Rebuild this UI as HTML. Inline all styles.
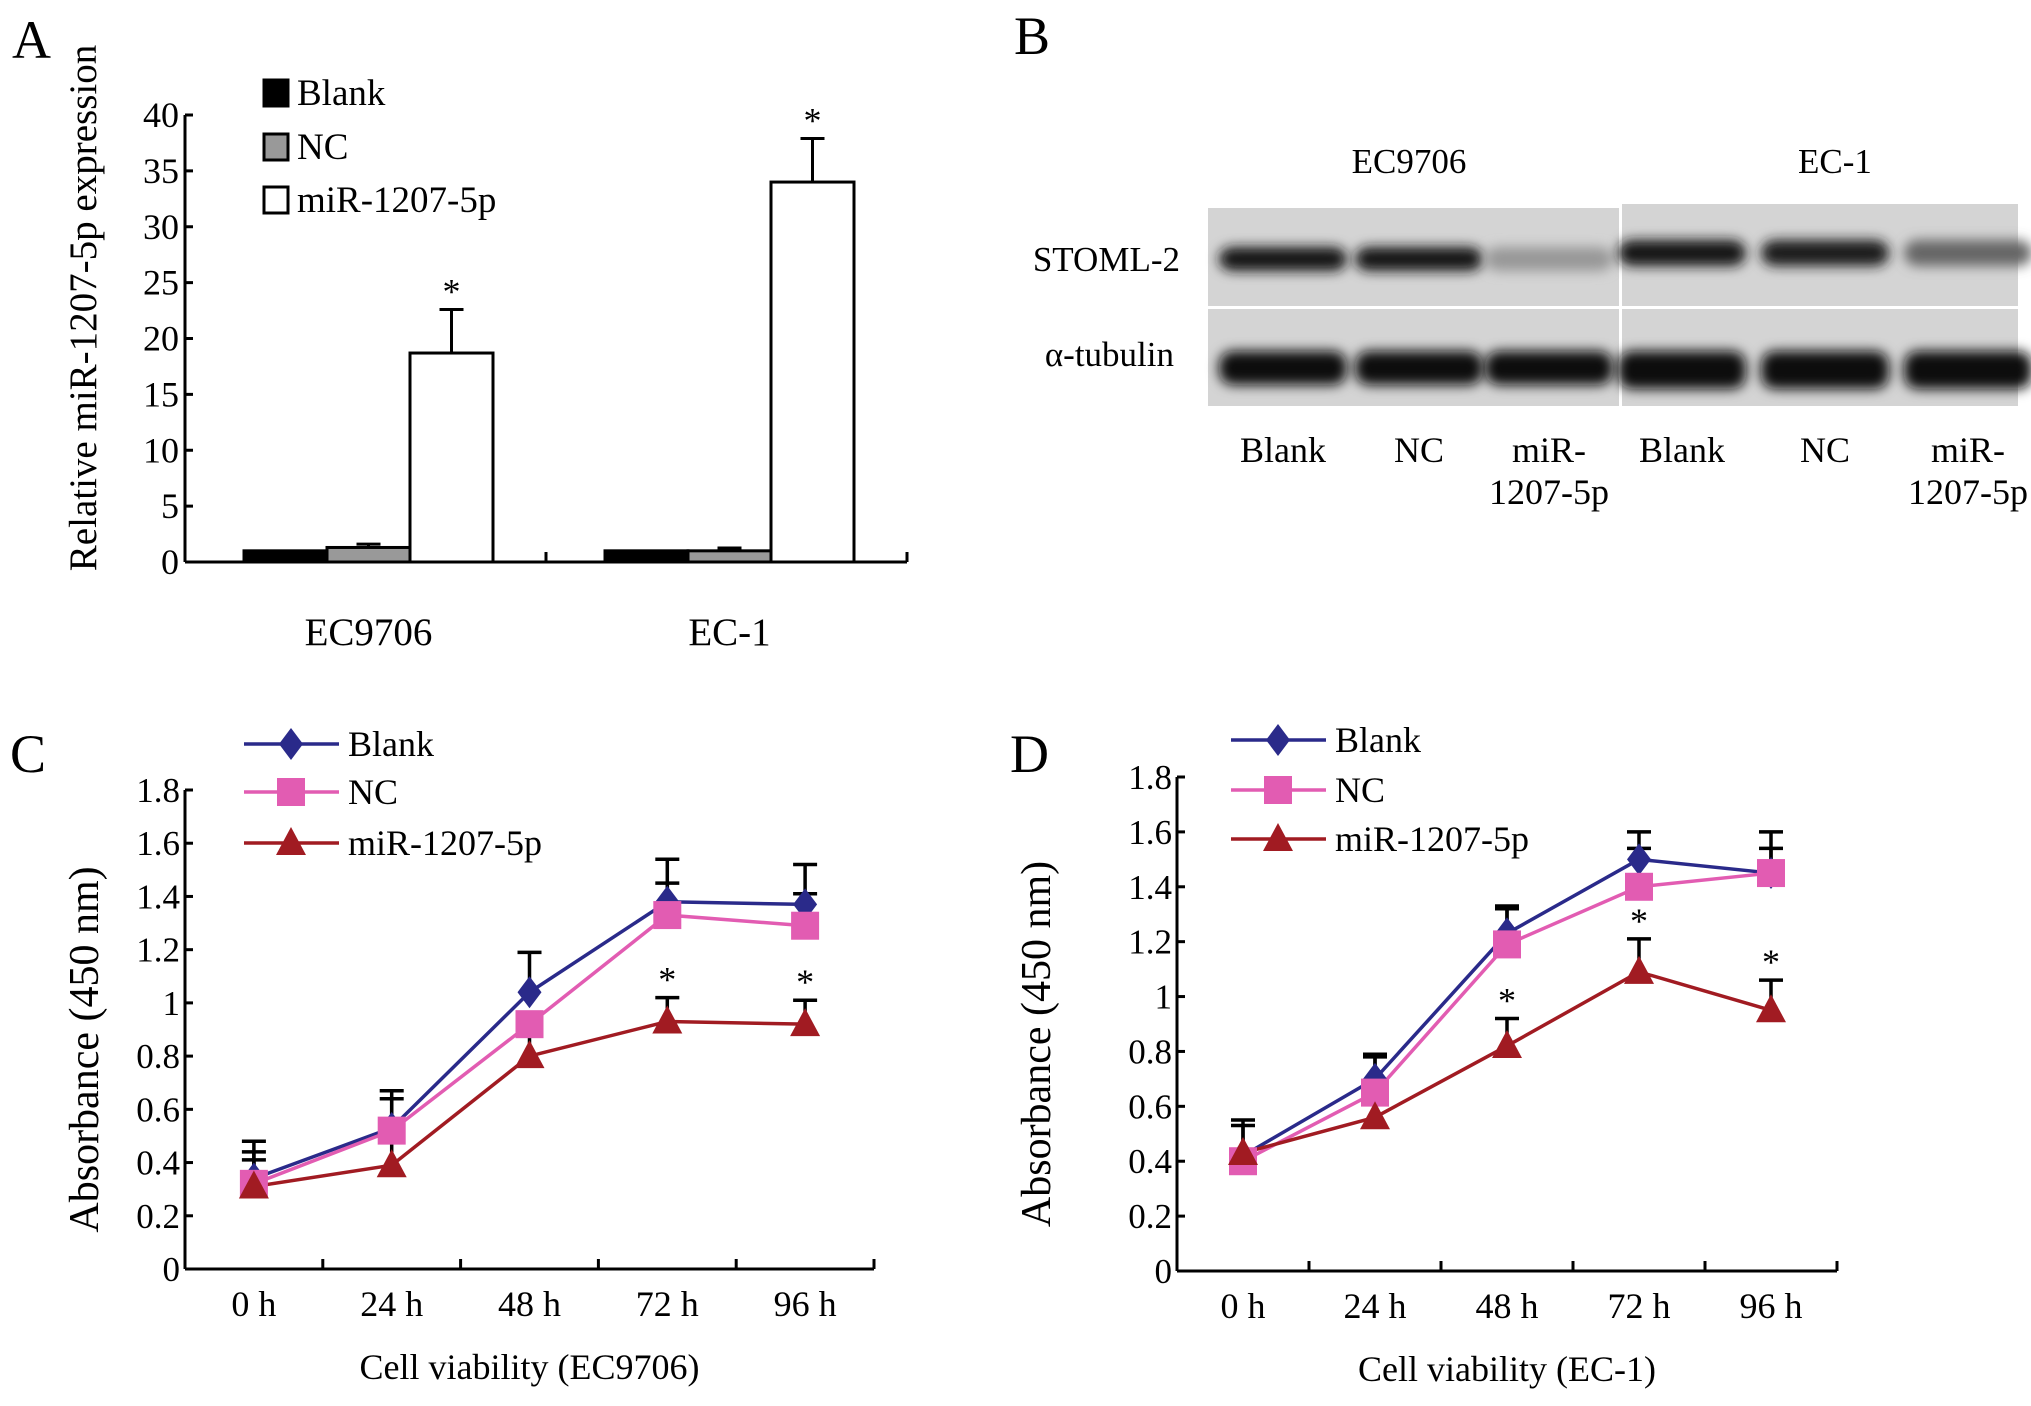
<!DOCTYPE html>
<html><head><meta charset="utf-8"><style>
html,body{margin:0;padding:0;background:#fff;}
svg{display:block;font-family:"Liberation Serif",serif;}
</style></head><body>
<svg id="fig" width="2031" height="1406" viewBox="0 0 2031 1406" xmlns="http://www.w3.org/2000/svg">
<defs>
<filter id="blur" x="-20%" y="-60%" width="140%" height="220%"><feGaussianBlur stdDeviation="6"/></filter>
</defs>
<text x="12" y="58" font-size="54">A</text>
<text x="1014" y="54" font-size="54">B</text>
<text x="10" y="772" font-size="54">C</text>
<text x="1010" y="772" font-size="54">D</text>

<g id="panelA"></g>
<g id="panelB"></g>
<g id="panelC"></g>
<g id="panelD"></g>
</svg>
<script>
// ---------- Panel A data ----------
const barGroups = ["EC9706", "EC-1"];
const barSeries = ["Blank", "NC", "miR-1207-5p"];
const barBlank = [1.0, 1.0];
const barNC = [1.3, 1.0];
const barMiR = [18.7, 34.0];
const barErrBlank = [0, 0];
const barErrNC = [0.3, 0.25];
const barErrMiR = [3.9, 3.9];
const barStars = [false, false, true];
const barTicks = [0, 5, 10, 15, 20, 25, 30, 35, 40];

// ---------- Panel C data ----------
const timeCats = ["0 h", "24 h", "48 h", "72 h", "96 h"];
const cBlank = [0.34, 0.53, 1.04, 1.38, 1.37];
const cNC = [0.32, 0.52, 0.92, 1.33, 1.29];
const cMiR = [0.31, 0.39, 0.80, 0.93, 0.92];
const cErrBlank = [0.14, 0.14, 0.15, 0.16, 0.15];
const cErrNC = [0.12, 0.12, 0.0, 0.12, 0.12];
const cErrMiR = [0.10, 0.09, 0.09, 0.09, 0.09];
const cStars = [false, false, false, true, true];

// ---------- Panel D data ----------
const dBlank = [0.42, 0.70, 1.23, 1.50, 1.45];
const dNC = [0.40, 0.65, 1.19, 1.40, 1.45];
const dMiR = [0.43, 0.56, 0.82, 1.09, 0.95];
const dErrBlank = [0.13, 0.09, 0.10, 0.10, 0.15];
const dErrNC = [0.13, 0.13, 0.13, 0.14, 0.09];
const dErrMiR = [0.0, 0.0, 0.10, 0.12, 0.11];
const dStars = [false, false, true, true, true];
const lineTicks = [0, 0.2, 0.4, 0.6, 0.8, 1, 1.2, 1.4, 1.6, 1.8];

const NS = "http://www.w3.org/2000/svg";
function mk(parent, tag, attrs, text) {
  const e = document.createElementNS(NS, tag);
  for (const k in attrs) e.setAttribute(k, attrs[k]);
  if (text !== undefined) e.textContent = text;
  parent.appendChild(e);
  return e;
}

// ================= Panel A =================
(function () {
  const g = document.getElementById("panelA");
  const x0 = 185, x1 = 907, yTop = 115, yBot = 562, vmax = 40;
  const y = v => yBot - (v / vmax) * (yBot - yTop);
  const groupW = (x1 - x0) / barGroups.length;
  const barW = 83;
  let e;
  e = mk(g, "line", {x1: x0, y1: yTop, x2: x0, y2: yBot, stroke: "#000", "stroke-width": 3});
  
  
  e = mk(g, "line", {x1: x0, y1: yBot, x2: x1, y2: yBot, stroke: "#000", "stroke-width": 3});
  
  
  barTicks.forEach(t => {
    const yy = y(t);
    mk(g, "line", {x1: x0, y1: yy, x2: x0 + 8, y2: yy, stroke: "#000", "stroke-width": 3});
    const tx = mk(g, "text", {x: x0 - 6, y: yy + 12, "font-size": 36, "text-anchor": "end"}, String(t));
    
    
  });
  for (let i = 1; i <= barGroups.length; i++) {
    const xx = x0 + i * groupW;
    mk(g, "line", {x1: xx, y1: yBot, x2: xx, y2: yBot - 10, stroke: "#000", "stroke-width": 3});
  }
  const fills = ["#000", "#999", "#fff"];
  const vals = [barBlank, barNC, barMiR];
  const errs = [barErrBlank, barErrNC, barErrMiR];
  barGroups.forEach((grp, gi) => {
    const gStart = x0 + gi * groupW + 59;
    vals.forEach((arr, si) => {
      const bx = gStart + si * barW;
      const top = y(arr[gi]);
      if (errs[si][gi] > 0) {
        const et = y(arr[gi] + errs[si][gi]);
        const cx = bx + barW / 2;
        mk(g, "line", {x1: cx, y1: top, x2: cx, y2: et, stroke: "#000", "stroke-width": 3});
        mk(g, "line", {x1: cx - 12, y1: et, x2: cx + 12, y2: et, stroke: "#000", "stroke-width": 3});
      }
      const r = mk(g, "rect", {x: bx, y: top, width: barW, height: yBot - top, fill: fills[si], stroke: "#000", "stroke-width": 3});
      
      
      if (barStars[si]) {
        const st = mk(g, "text", {x: bx + barW / 2, y: y(arr[gi] + errs[si][gi]) - 6, "font-size": 36, "text-anchor": "middle"}, "*");
        
        
      }
    });
    const lbl = mk(g, "text", {x: gStart + 1.5 * barW, y: 645, "font-size": 39, "text-anchor": "middle"}, grp);
    
    
  });
  const yt = mk(g, "text", {x: 0, y: 0, "font-size": 39, "text-anchor": "middle", transform: "translate(96,308) rotate(-90)"}, "Relative  miR-1207-5p expression");
  
  
  const ly = [92, 146, 199];
  barSeries.forEach((s, i) => {
    const b = mk(g, "rect", {x: 264, y: ly[i] - 12, width: 24, height: 26, fill: fills[i], stroke: "#000", "stroke-width": 3});
    
    
    const t = mk(g, "text", {x: 297, y: ly[i] + 13, "font-size": 37}, s);
    
    
  });
})();

// ================= Panel B =================
(function () {
  const g = document.getElementById("panelB");
  const bands = [
    {x: 1208, w: 411, top: 208, h: 98, dark: [0.95, 0.95, 0.3], y: 259, bh: 24},
    {x: 1622, w: 396, top: 204, h: 102, dark: [0.95, 0.92, 0.55], y: 253, bh: 26},
    {x: 1208, w: 411, top: 309, h: 97, dark: [1, 1, 1], y: 368, bh: 34},
    {x: 1622, w: 396, top: 309, h: 97, dark: [1, 1, 1], y: 370, bh: 38}
  ];
  const lanesL = [1283, 1419, 1549];
  const lanesR = [1682, 1825, 1968];
  bands.forEach((b) => {
    const r = mk(g, "rect", {x: b.x, y: b.top, width: b.w, height: b.h, fill: "#d4d4d4"});
    
    
    const lanes = b.x < 1600 ? lanesL : lanesR;
    lanes.forEach((lx, li) => {
      const c = Math.round(212 - 200 * b.dark[li]);
      const el = mk(g, "rect", {x: lx - 64, y: b.y - b.bh / 2, width: 128, height: b.bh, rx: 14, fill: `rgb(${c},${c},${c})`, filter: "url(#blur)"});
      
      
    });
  });
  let t;
  t = mk(g, "text", {x: 1180, y: 271, "font-size": 35, "text-anchor": "end"}, "STOML-2");
  
  
  t = mk(g, "text", {x: 1174, y: 366, "font-size": 35, "text-anchor": "end"}, "α-tubulin");
  
  
  t = mk(g, "text", {x: 1409, y: 173, "font-size": 35, "text-anchor": "middle"}, "EC9706");
  
  
  t = mk(g, "text", {x: 1835, y: 173, "font-size": 35, "text-anchor": "middle"}, "EC-1");
  
  
  const laneNames = ["Blank", "NC", "miR-"];
  [lanesL, lanesR].forEach(ls => {
    ls.forEach((lx, i) => {
      const lt = mk(g, "text", {x: lx, y: 462, "font-size": 36, "text-anchor": "middle"}, laneNames[i]);
      
      
    });
    const l2 = mk(g, "text", {x: ls[2], y: 504, "font-size": 36, "text-anchor": "middle"}, "1207-5p");
    
    
  });
})();

// ================= Line panels =================
function linePanel(id, cfg, series, errs, stars, xTitle) {
  const g = document.getElementById(id);
  const {x0, x1, yTop, yBot} = cfg;
  const vmax = 1.8;
  const y = v => yBot - (v / vmax) * (yBot - yTop);
  const bw = (x1 - x0) / timeCats.length;
  const xc = i => x0 + bw * (i + 0.5);
  let e;
  e = mk(g, "line", {x1: x0, y1: yTop, x2: x0, y2: yBot, stroke: "#000", "stroke-width": 3});
  
  
  e = mk(g, "line", {x1: x0, y1: yBot, x2: x1, y2: yBot, stroke: "#000", "stroke-width": 3});
  
  
  lineTicks.forEach(t => {
    const yy = y(t);
    mk(g, "line", {x1: x0, y1: yy, x2: x0 + 8, y2: yy, stroke: "#000", "stroke-width": 3});
    const tx = mk(g, "text", {x: x0 - 5, y: yy + 12, "font-size": 35, "text-anchor": "end"}, String(t));
    
    
  });
  timeCats.forEach((c, i) => {
    if (i > 0) mk(g, "line", {x1: x0 + bw * i, y1: yBot, x2: x0 + bw * i, y2: yBot - 10, stroke: "#000", "stroke-width": 3});
    const tx = mk(g, "text", {x: xc(i), y: yBot + 47, "font-size": 36, "text-anchor": "middle"}, c);
    
    
  });
  mk(g, "line", {x1: x1, y1: yBot, x2: x1, y2: yBot - 10, stroke: "#000", "stroke-width": 3});
  const colors = ["#2a2a8a", "#e25cb2", "#a11b22"];
  const names = ["blank", "nc", "mir-1207-5p"];
  series.forEach((arr, si) => {
    arr.forEach((v, i) => {
      const err = errs[si][i];
      if (err <= 0) return;
      const cx = xc(i), et = y(v + err);
      const eb = mk(g, "path", {d: `M${cx},${y(v)}V${et}M${cx - 12},${et}H${cx + 12}`, stroke: "#000", "stroke-width": 3.5, fill: "none"});
      
      
    });
  });
  series.forEach((arr, si) => {
    const pts = arr.map((v, i) => `${xc(i)},${y(v)}`).join(" ");
    const pl = mk(g, "polyline", {points: pts, fill: "none", stroke: colors[si], "stroke-width": 3.5});
    
    
  });
  function marker(si, cx, cy) {
    let m;
    if (si === 0) m = mk(g, "path", {d: `M${cx},${cy - 16}L${cx + 12},${cy}L${cx},${cy + 16}L${cx - 12},${cy}Z`, fill: colors[0]});
    else if (si === 1) m = mk(g, "rect", {x: cx - 14, y: cy - 14, width: 28, height: 28, fill: colors[1]});
    else m = mk(g, "path", {d: `M${cx},${cy - 16}L${cx + 15},${cy + 12}L${cx - 15},${cy + 12}Z`, fill: colors[2]});
    return m;
  }
  series.forEach((arr, si) => {
    arr.forEach((v, i) => {
      const m = marker(si, xc(i), y(v));
      
      
    });
  });
  stars.forEach((s, i) => {
    if (!s) return;
    const v = series[2][i] + errs[2][i];
    const st = mk(g, "text", {x: xc(i), y: y(v) - 6, "font-size": 36, "text-anchor": "middle"}, "*");
    
    
  });
  const labels = ["Blank", "NC", "miR-1207-5p"];
  labels.forEach((s, i) => {
    const ly = cfg.legY[i];
    const ll = mk(g, "line", {x1: cfg.legX, y1: ly, x2: cfg.legX + 95, y2: ly, stroke: colors[i], "stroke-width": 3.5});
    
    
    const m = marker(i, cfg.legX + 47, ly);
    
    
    const t = mk(g, "text", {x: cfg.legX + 104, y: ly + 12, "font-size": 36}, s);
    
    
  });
  const yt = mk(g, "text", {x: 0, y: 0, "font-size": 42, "text-anchor": "middle", transform: `translate(${cfg.yTitleX},${(yTop + yBot) / 2 + 20}) rotate(-90)`}, "Absorbance (450 nm)");
  
  
  const xt = mk(g, "text", {x: (x0 + x1) / 2, y: yBot + 110, "font-size": 36, "text-anchor": "middle"}, xTitle);
  
  
}
linePanel("panelC", {x0: 185, x1: 874, yTop: 790, yBot: 1269, legX: 244, legY: [744, 792, 843], yTitleX: 98},
  [cBlank, cNC, cMiR], [cErrBlank, cErrNC, cErrMiR], cStars, "Cell viability (EC9706)");
linePanel("panelD", {x0: 1177, x1: 1837, yTop: 777, yBot: 1271, legX: 1231, legY: [740, 790, 839], yTitleX: 1050},
  [dBlank, dNC, dMiR], [dErrBlank, dErrNC, dErrMiR], dStars, "Cell viability (EC-1)");
</script>
</body></html>
